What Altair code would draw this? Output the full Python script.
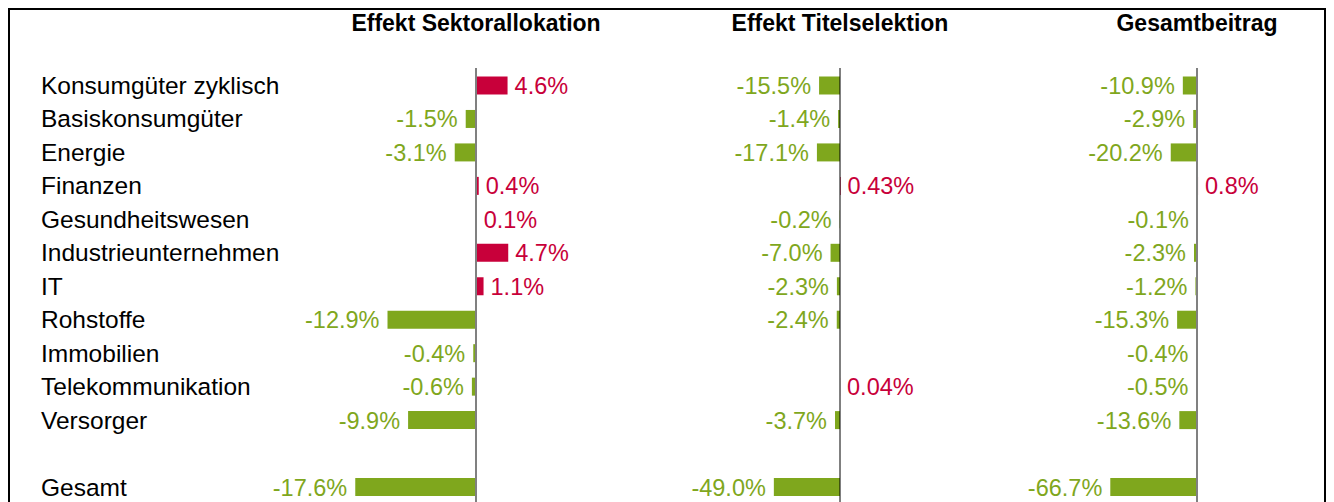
import altair as alt
import pandas as pd

# ---------------- data ----------------
categories = [
    "Konsumgüter zyklisch", "Basiskonsumgüter", "Energie", "Finanzen",
    "Gesundheitswesen", "Industrieunternehmen", "IT", "Rohstoffe",
    "Immobilien", "Telekommunikation", "Versorger", "Gesamt",
]
sektorallokation = [4.6, -1.5, -3.1, 0.4, 0.1, 4.7, 1.1, -12.9, -0.4, -0.6, -9.9, -17.6]
titelselektion = [-15.5, -1.4, -17.1, 0.43, -0.2, -7.0, -2.3, -2.4, None, 0.04, -3.7, -49.0]
gesamtbeitrag = [-10.9, -2.9, -20.2, 0.8, -0.1, -2.3, -1.2, -15.3, -0.4, -0.5, -13.6, -66.7]
panel_titles = ["Effekt Sektorallokation", "Effekt Titelselektion", "Gesamtbeitrag"]

# ---------------- styling / layout ----------------
RED = "#C8003A"
GREEN = "#7FA71D"
FONT = "Liberation Sans"
W, H = 1318, 494
ROW0, ROWSTEP, BAR_H = 77.5, 33.46, 18
# (zero position in px, px per percent point, axis colour, axis width)
panel_layout = [(468, 6.86, "#808080", 2), (832, 1.35, "#000000", 1), (1189, 1.30, "#808080", 2)]


def fmt(v):
    return f"{v:.2f}%" if round(v, 1) != v else f"{v:.1f}%"


records = []
for p, vals in enumerate([sektorallokation, titelselektion, gesamtbeitrag]):
    for i, (c, v) in enumerate(zip(categories, vals)):
        if v is None:
            continue
        r = i + (1 if c == "Gesamt" else 0)
        records.append(dict(panel=p, cat=c, row=r, value=v, label=fmt(v)))
df = pd.DataFrame(records)

cat_df = pd.DataFrame({
    "cat": categories,
    "row": [i + (1 if c == "Gesamt" else 0) for i, c in enumerate(categories)],
})

ya = -ROW0 / ROWSTEP
yscale = alt.Scale(domain=[ya, ya + H / ROWSTEP], reverse=True, nice=False, zero=False)
half = BAR_H / 2 / ROWSTEP

layers = []

# frame
one = pd.DataFrame({"a": [0]})
layers.append(alt.Chart(one).mark_rule(color="black", strokeWidth=2).encode(
    x=alt.value(1), y=alt.value(0), y2=alt.value(H)))
layers.append(alt.Chart(one).mark_rule(color="black", strokeWidth=2).encode(
    x=alt.value(0), x2=alt.value(W), y=alt.value(1)))
layers.append(alt.Chart(one).mark_rule(color="black", strokeWidth=2).encode(
    x=alt.value(W - 1), y=alt.value(0), y2=alt.value(H)))

# category labels
layers.append(alt.Chart(cat_df).mark_text(
    align="left", baseline="alphabetic", dy=8.5, fontSize=24.5, font=FONT, color="black"
).encode(
    x=alt.value(33),
    y=alt.Y("row:Q", scale=yscale, axis=None),
    text="cat:N",
))

for p, (title, (z, k, acol, aw)) in enumerate(zip(panel_titles, panel_layout)):
    xs = alt.Scale(domain=[-z / k, (W - z) / k], nice=False, zero=False)
    d = df[df.panel == p]

    layers.append(alt.Chart(d).transform_calculate(
        y0=f"datum.row - {half}", y1=f"datum.row + {half}", z="0"
    ).mark_rect().encode(
        x=alt.X("value:Q", scale=xs, axis=None),
        x2="z:Q",
        y=alt.Y("y0:Q", scale=yscale, axis=None),
        y2="y1:Q",
        color=alt.condition("datum.value < 0", alt.value(GREEN), alt.value(RED)),
    ))

    layers.append(alt.Chart(pd.DataFrame({"z": [0]})).mark_rule(
        color=acol, strokeWidth=aw
    ).encode(
        x=alt.X("z:Q", scale=xs, axis=None), y=alt.value(60), y2=alt.value(H)))

    layers.append(alt.Chart(d).transform_filter("datum.value < 0").mark_text(
        align="right", baseline="alphabetic", dx=-8, dy=8.5, fontSize=23.5, font=FONT, color=GREEN
    ).encode(
        x=alt.X("value:Q", scale=xs, axis=None),
        y=alt.Y("row:Q", scale=yscale, axis=None),
        text="label:N",
    ))
    layers.append(alt.Chart(d).transform_filter("datum.value >= 0").mark_text(
        align="left", baseline="alphabetic", dx=7, dy=8.5, fontSize=23.5, font=FONT, color=RED
    ).encode(
        x=alt.X("value:Q", scale=xs, axis=None),
        y=alt.Y("row:Q", scale=yscale, axis=None),
        text="label:N",
    ))

    layers.append(alt.Chart(pd.DataFrame({"z": [0], "t": [title]})).mark_text(
        align="center", baseline="alphabetic", fontSize=23, fontWeight="bold", font=FONT, color="black"
    ).encode(
        x=alt.X("z:Q", scale=xs, axis=None), y=alt.value(23), text="t:N"))

chart = alt.layer(*layers).resolve_scale(x="independent").properties(
    width=W, height=H, padding=0, autosize=alt.AutoSizeParams(type="none")
).configure_view(stroke=None)

chart.save("out.html", embed_options={"renderer": "svg", "actions": False})
